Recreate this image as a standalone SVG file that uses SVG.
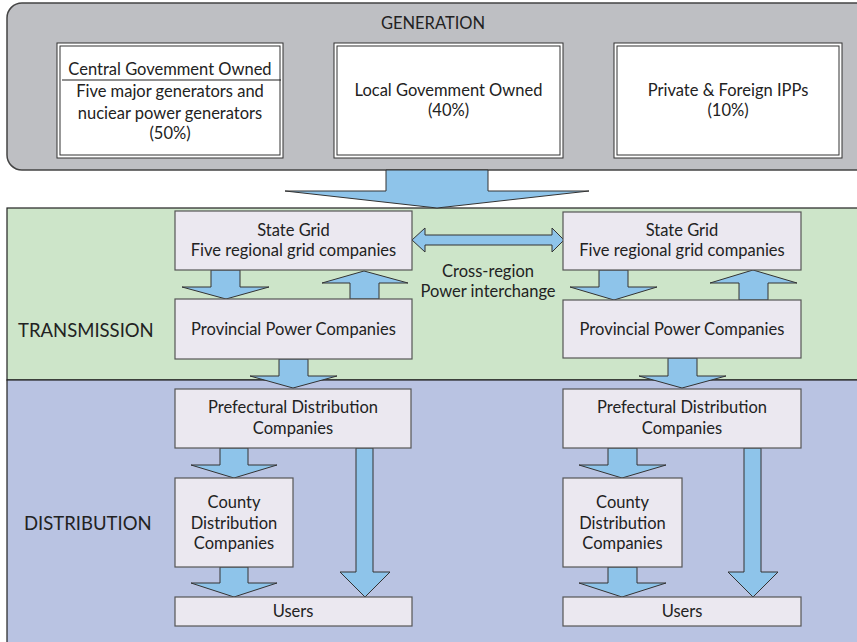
<svg xmlns="http://www.w3.org/2000/svg" width="857" height="642" viewBox="0 0 857 642">
<style>
text{font-family:"Lato","Liberation Sans",sans-serif;fill:#222;text-anchor:middle;font-size:16.5px}
.lbl{text-anchor:start;font-size:18.5px}
.gbox{fill:#fff;stroke:#333;stroke-width:1}
.box{fill:#ebe8f0;stroke:#555;stroke-width:1.2}
.arr{fill:#8ec4ea;stroke:#333;stroke-width:1;stroke-linejoin:miter}
</style>
<rect width="857" height="642" fill="#fff"/>
<g id="bands">
<rect x="7" y="208" width="860" height="172" fill="#cde5c9" stroke="#222" stroke-width="1.2"/>
<rect x="7" y="380" width="860" height="270" fill="#b9c3e2" stroke="#222" stroke-width="1.2"/>
<text class="lbl" x="18" y="337">TRANSMISSION</text>
<text class="lbl" x="24" y="530">DISTRIBUTION</text>
</g>
<g id="generation">
<rect x="7" y="3" width="870" height="167" rx="15" fill="#bebfc3" stroke="#444" stroke-width="1.5"/>
<text x="433" y="29" font-size="19">GENERATION</text>
</g>
<g id="gen-central">
<rect class="gbox" x="57" y="43" width="226" height="115"/>
<rect class="gbox" x="60" y="46" width="220" height="109"/>
<line x1="62" y1="80" x2="281" y2="80" stroke="#222" stroke-width="1.2"/>
<text x="170" y="75">Central Govemment Owned</text>
<text x="170" y="97">Five major generators and</text>
<text x="170" y="119">nuciear power generators</text>
<text x="170" y="139">(50%)</text>
</g>
<g id="gen-local">
<rect class="gbox" x="334" y="43" width="229" height="115"/>
<rect class="gbox" x="337" y="46" width="223" height="109"/>
<text x="448.5" y="96">Local Govemment Owned</text>
<text x="448.5" y="116">(40%)</text>
</g>
<g id="gen-private">
<rect class="gbox" x="614" y="43" width="228" height="115"/>
<rect class="gbox" x="617" y="46" width="222" height="109"/>
<text x="728" y="96">Private &amp; Foreign IPPs</text>
<text x="728" y="116">(10%)</text>
</g>
<g id="connectors">
<polygon class="arr" points="386,170 386,191 285,191 437,208 589,191 488,191 488,170"/>
<polygon class="arr" points="211,270 211,287 182,287 226,299 269,287 240,287 240,270"/>
<polygon class="arr" points="350,299 350,283 322,283 364,271 408,283 379,283 379,299"/>
<polygon class="arr" points="279,359 279,376 250,376 293,388 337,376 308,376 308,359"/>
<polygon class="arr" points="599,270 599,287 570,287 614,300 657,287 628,287 628,270"/>
<polygon class="arr" points="739,300 739,283 710,283 753,270 797,283 768,283 768,300"/>
<polygon class="arr" points="668,358 668,376 639,376 682,388 726,376 697,376 697,358"/>
<polygon class="arr" points="412,240 425,228 425,235 552,235 552,228 564,240 552,252 552,245 425,245 425,252"/>
<polygon class="arr" points="220,448 220,465 191,465 234,478 277,465 248,465 248,448"/>
<polygon class="arr" points="220,567 220,583 191,583 234,597 277,583 248,583 248,567"/>
<polygon class="arr" points="356,448 356,572 340,572 365,597 390,572 373,572 373,448"/>
<polygon class="arr" points="608,448 608,465 579,465 622,478 666,465 637,465 637,448"/>
<polygon class="arr" points="608,567 608,583 579,583 622,597 666,583 637,583 637,567"/>
<polygon class="arr" points="744,448 744,572 728,572 753,597 778,572 761,572 761,448"/>
</g>
<text x="488" y="277">Cross-region</text>
<text x="488" y="297">Power interchange</text>
<g id="stategrid-left">
<rect class="box" x="175" y="211" width="237" height="59"/>
<text x="293.5" y="236">State Grid</text>
<text x="293.5" y="256">Five regional grid companies</text>
</g>
<g id="provincial-left">
<rect class="box" x="175" y="299" width="237" height="60"/>
<text x="293.5" y="335">Provincial Power Companies</text>
</g>
<g id="stategrid-right">
<rect class="box" x="563" y="212" width="238" height="58"/>
<text x="682" y="236">State Grid</text>
<text x="682" y="256">Five regional grid companies</text>
</g>
<g id="provincial-right">
<rect class="box" x="563" y="300" width="238" height="58"/>
<text x="682" y="335">Provincial Power Companies</text>
</g>
<g id="prefectural-left">
<rect class="box" x="175" y="389" width="236" height="59"/>
<text x="293" y="413">Prefectural Distribution</text>
<text x="293" y="434">Companies</text>
</g>
<g id="county-left">
<rect class="box" x="175" y="478" width="118" height="89"/>
<text x="234" y="508">County</text>
<text x="234" y="529">Distribution</text>
<text x="234" y="549">Companies</text>
</g>
<g id="users-left">
<rect class="box" x="175" y="597" width="237" height="29"/>
<text x="293" y="617">Users</text>
</g>
<g id="prefectural-right">
<rect class="box" x="563" y="389" width="238" height="59"/>
<text x="682" y="413">Prefectural Distribution</text>
<text x="682" y="434">Companies</text>
</g>
<g id="county-right">
<rect class="box" x="563" y="478" width="119" height="89"/>
<text x="622.5" y="508">County</text>
<text x="622.5" y="529">Distribution</text>
<text x="622.5" y="549">Companies</text>
</g>
<g id="users-right">
<rect class="box" x="563" y="597" width="238" height="29"/>
<text x="682" y="617">Users</text>
</g>
</svg>
